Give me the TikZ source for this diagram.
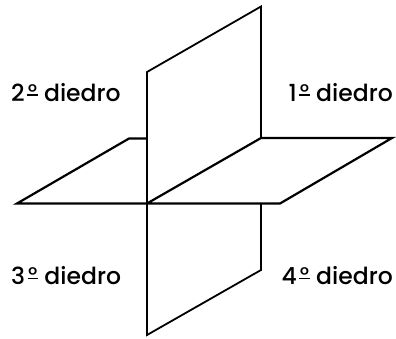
\documentclass[tikz,border=0pt]{standalone}
\usepackage{fontspec}
\setmainfont{Poppins Medium}
\newcommand{\ordmark}{\kern2.5pt\rlap{\raisebox{5.2pt}{\rule{10.5pt}{1.7pt}}}\kern0.5pt\raisebox{1.6pt}{\fontsize{21pt}{22pt}\selectfont º}\kern7pt}
\tikzset{
  edge line/.style={line width=1.8pt,line cap=round,line join=miter,black},
  thick line/.style={line width=2.2pt,line cap=round,line join=miter,black},
  label text/.style={inner sep=0pt,font=\fontsize{23.5pt}{26pt}\selectfont,text=black}
}
\begin{document}
\begin{tikzpicture}[x=1pt,y=-1pt]
\useasboundingbox (0,0) rectangle (396,338);
\coordinate (vtr) at (261,6.5);
\coordinate (vtl) at (147,72);
\coordinate (vbl) at (147,335);
\coordinate (vbr) at (261,270);
\coordinate (vmr) at (261,138);
\coordinate (vmb) at (261,204);
\coordinate (c) at (147,203.5);
\coordinate (hl) at (17,203.5);
\coordinate (hbr) at (280,203.5);
\coordinate (htr) at (392,138);
\coordinate (hbk) at (129,138.5);
\coordinate (hbv) at (147,138.5);
\draw[edge line] (vmr) -- (vtr) -- (vtl) -- (vbl) -- (vbr) -- (vmb);
\draw[thick line] (hbv) -- (hbk) -- (hl) -- (hbr) -- (htr) -- (vmr) -- (c);
\node[label text,anchor=base west] (d2) at (11,101) {2\ordmark diedro};
\node[label text,anchor=base east] (d1) at (393,101) {1\ordmark diedro};
\node[label text,anchor=base west] (d3) at (11,284.5) {3\ordmark diedro};
\node[label text,anchor=base east] (d4) at (393,284.5) {4\ordmark diedro};
\end{tikzpicture}
\end{document}
